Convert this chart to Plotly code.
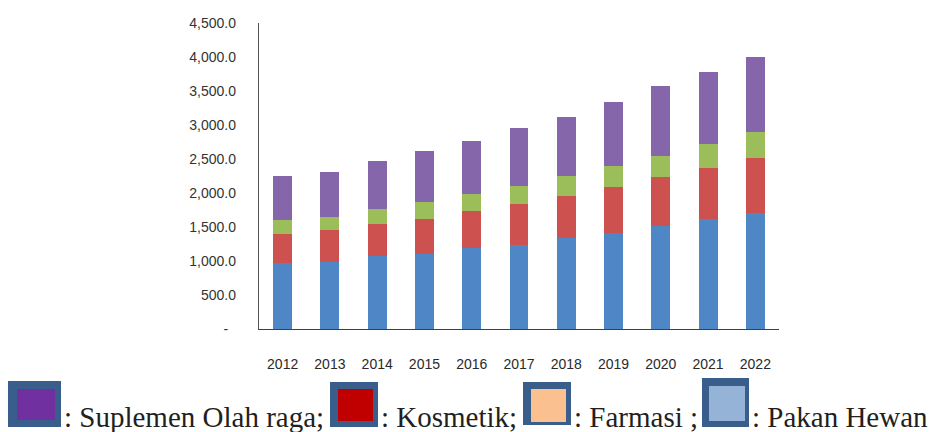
import plotly.graph_objects as go

years = ["2012", "2013", "2014", "2015", "2016", "2017", "2018", "2019", "2020", "2021", "2022"]
pakan_hewan = [970, 990, 1067, 1106, 1184, 1238, 1331, 1419, 1508, 1616, 1713]
kosmetik = [426, 459, 476, 510, 554, 603, 627, 667, 725, 749, 808]
farmasi = [210, 191, 220, 250, 250, 269, 299, 318, 318, 357, 373]
suplemen = [646, 675, 705, 753, 774, 847, 867, 940, 1019, 1063, 1111]

ytick_vals = [0, 500, 1000, 1500, 2000, 2500, 3000, 3500, 4000, 4500]
ytick_text = ["-\u00a0\u00a0", "500.0", "1,000.0", "1,500.0", "2,000.0", "2,500.0",
              "3,000.0", "3,500.0", "4,000.0", "4,500.0"]

legend_labels = [": Suplemen Olah raga;", ": Kosmetik;", ": Farmasi ;", ": Pakan Hewan"]
legend_colors = ["#7030A0", "#C00000", "#FAC090", "#95B3D7"]

W, H = 935, 432
L, R, T, B = 259, 156, 23, 103
PW, PH = W - L - R, H - T - B


def px(x):
    return (x - L) / PW


def py(y):
    return (H - B - y) / PH


fig = go.Figure()
series = [
    ("Pakan Hewan", pakan_hewan, "#4F86C6"),
    ("Kosmetik", kosmetik, "#CD514E"),
    ("Farmasi", farmasi, "#9BBE5A"),
    ("Suplemen Olah raga", suplemen, "#8566AA"),
]
for name, vals, col in series:
    fig.add_trace(go.Bar(x=years, y=vals, name=name, marker=dict(color=col, line=dict(width=0)),
                         width=0.4, showlegend=False))

shapes = []
annotations = []
boxes = [
    ((8, 381, 61, 427), (17, 389, 55, 420), 63),
    ((330, 382, 378, 427), (338, 389, 373, 421), 380),
    ((523, 382, 571, 425), (531, 389, 566, 422), 573),
    ((702, 378, 749, 427), (709, 386, 745, 421), 751),
]
for (outer, inner, tx), lab, col in zip(boxes, legend_labels, legend_colors):
    shapes.append(dict(type="rect", xref="paper", yref="paper",
                       x0=px(outer[0]), x1=px(outer[2]), y0=py(outer[3]), y1=py(outer[1]),
                       fillcolor="#3A5E8C", line=dict(width=0), layer="above"))
    shapes.append(dict(type="rect", xref="paper", yref="paper",
                       x0=px(inner[0]), x1=px(inner[2]), y0=py(inner[3]), y1=py(inner[1]),
                       fillcolor=col, line=dict(width=0), layer="above"))
    annotations.append(dict(text=lab, xref="paper", yref="paper", x=px(tx), y=py(434),
                            xanchor="left", yanchor="bottom", showarrow=False, borderpad=0,
                            font=dict(family="Liberation Serif", size=29, color="#231F20")))

fig.update_layout(
    width=W, height=H,
    margin=dict(l=L, r=R, t=T, b=B, pad=0),
    barmode="stack",
    plot_bgcolor="white", paper_bgcolor="white",
    bargap=0.6,
    shapes=shapes,
    annotations=annotations,
    xaxis=dict(showgrid=False, showline=True, linecolor="#404040", linewidth=1.3,
               ticks="", ticklabelstandoff=22, range=[-0.5, 10.5],
               tickfont=dict(family="Liberation Sans", size=14, color="#2a2a2a")),
    yaxis=dict(showgrid=False, showline=True, linecolor="#555555", linewidth=1.3,
               range=[0, 4500], tickvals=ytick_vals, ticktext=ytick_text, ticks="",
               ticklabelstandoff=19, zeroline=False,
               tickfont=dict(family="Liberation Sans", size=14, color="#333333")),
)

fig.write_html("out.html", config={"displayModeBar": False},
               post_script="document.body.style.margin='0';document.body.style.overflow='hidden';")
